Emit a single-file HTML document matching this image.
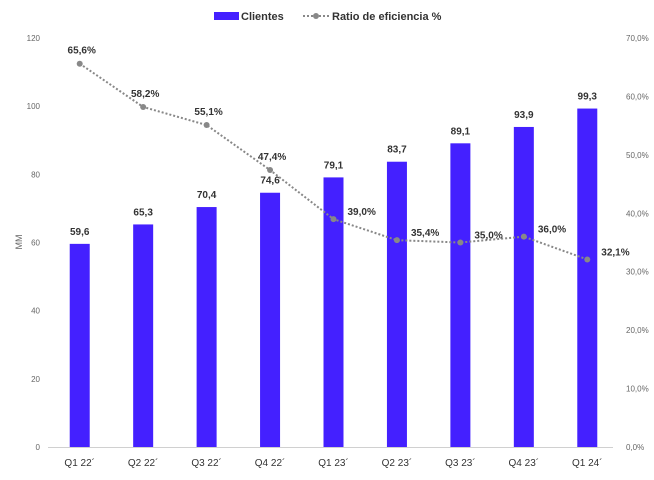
<!DOCTYPE html>
<html><head><meta charset="utf-8"><style>
body{margin:0;background:#fff;font-family:"Liberation Sans",sans-serif}
svg text{font-family:"Liberation Sans",sans-serif}
</style></head><body>
<svg id="c" width="654" height="475"></svg>
<script>
const categories=["Q1 22´","Q2 22´","Q3 22´","Q4 22´","Q1 23´","Q2 23´","Q3 23´","Q4 23´","Q1 24´"];
const clientes=[59.6,65.3,70.4,74.6,79.1,83.7,89.1,93.9,99.3];
const ratio=[65.6,58.2,55.1,47.4,39.0,35.4,35.0,36.0,32.1];
const leftTicks=[0,20,40,60,80,100,120];
const rightTicks=[0,10,20,30,40,50,60,70];
const NS="http://www.w3.org/2000/svg",svg=document.getElementById('c');
const x0=48,x1=619,yTop=38,yBot=447;
const step=(x1-x0)/categories.length;
const xc=i=>x0+step*(i+0.5);
const yL=v=>yBot-(v/120)*(yBot-yTop);
const yR=v=>yBot-(v/70)*(yBot-yTop);
function el(t,a,txt){const e=document.createElementNS(NS,t);for(const k in a)e.setAttribute(k,a[k]);if(txt!==undefined)e.textContent=txt;svg.appendChild(e);return e;}
const fmt=v=>v.toFixed(1).replace('.',',');
leftTicks.forEach(v=>{const t=el('text',{x:40,y:yL(v)+3,'text-anchor':'end','font-size':8,fill:'#666'},v);
});
rightTicks.forEach(v=>{const t=el('text',{x:626,y:yR(v)+3,'font-size':8,fill:'#666'},fmt(v)+'%');
});
const yt=el('text',{x:22,y:242,'font-size':9,fill:'#666',transform:'rotate(-90 22 242)','text-anchor':'middle'},'MM');

const ax=el('line',{x1:x0,x2:x1-6,y1:yBot+0.5,y2:yBot+0.5,stroke:'#d0d0d0'});

clientes.forEach((v,i)=>{
 const b=el('rect',{x:xc(i)-10,y:yL(v),width:20,height:yBot-yL(v),fill:'#4420ff'});
 
 const t=el('text',{x:xc(i),y:yL(v)-9,'text-anchor':'middle','font-size':10,'font-weight':'bold',fill:'#333'},fmt(v));
 
 const c=el('text',{x:xc(i),y:466,'text-anchor':'middle','font-size':10,fill:'#333'},categories[i]);
 
});
const pl=el('polyline',{points:ratio.map((v,i)=>xc(i)+','+yR(v)).join(' '),fill:'none',stroke:'#888','stroke-width':2,'stroke-dasharray':'2,2'});

ratio.forEach((v,i)=>{
 const p=el('circle',{cx:xc(i),cy:yR(v),r:3,fill:'#888'});
 
 const right=i>=4;
 const t=el('text',{x:right?xc(i)+14:xc(i)+2,y:right?yR(v)-4:yR(v)-10,'text-anchor':right?'start':'middle','font-size':10,'font-weight':'bold',fill:'#333'},fmt(v)+'%');
 
});
const lg1=el('rect',{x:214,y:12,width:25,height:8,fill:'#4420ff'});

const lt1=el('text',{x:241,y:20,'font-size':11,'font-weight':'bold',fill:'#333'},'Clientes');

const lg2=el('line',{x1:303,x2:329,y1:16,y2:16,stroke:'#888','stroke-width':2,'stroke-dasharray':'2,2'});

const lc=el('circle',{cx:316,cy:16,r:3,fill:'#888'});

const lt2=el('text',{x:332,y:20,'font-size':11,'font-weight':'bold',fill:'#333'},'Ratio de eficiencia %');

</script>
</body></html>
